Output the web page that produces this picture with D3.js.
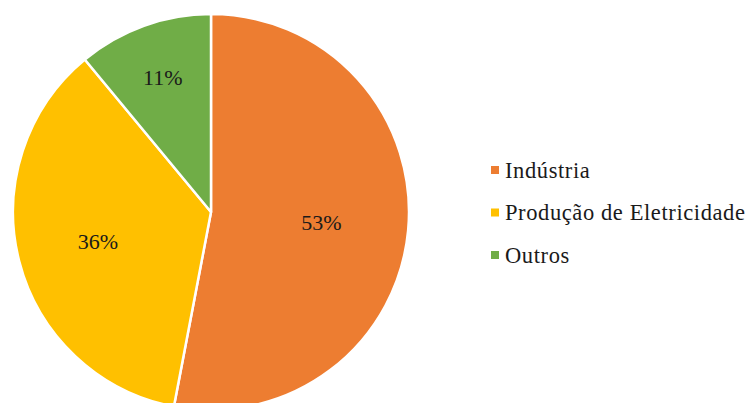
<!DOCTYPE html>
<html>
<head>
<meta charset="utf-8">
<script src="https://cdn.jsdelivr.net/npm/d3@7/dist/d3.min.js"></script>
<style>
  html, body { margin: 0; padding: 0; background: #fff; }
  svg { display: block; }
  .lbl { font-family: "Liberation Serif", "DejaVu Serif", serif; }
</style>
</head>
<body>
<svg id="chart" width="751" height="403"></svg>
<script>
// Share by sector (%)
const categories = ["Indústria", "Produção de Eletricidade", "Outros"];
const values = [53, 36, 11];
const colors = ["#ED7D31", "#FFC000", "#70AD47"];

// Layout
const cx = 211, cy = 212, radius = 198;
const labelRadius = [0.56, 0.59, 0.72]; // fraction of radius for each slice label

const svg = d3.select("#chart");
const color = d3.scaleOrdinal().domain(categories).range(colors);

const pie = d3.pie().sort(null).value(d => d.value);
const data = categories.map((c, i) => ({ name: c, value: values[i] }));
const arcs = pie(data);

const arc = d3.arc().innerRadius(0).outerRadius(radius);

const g = svg.append("g").attr("transform", `translate(${cx},${cy})`);

g.selectAll("path")
  .data(arcs)
  .join("path")
  .attr("d", arc)
  .attr("fill", d => color(d.data.name))
  .attr("stroke", "#fff")
  .attr("stroke-width", 2.5)
  .attr("stroke-linejoin", "round");

const total = d3.sum(values);
g.selectAll("text.pct")
  .data(arcs)
  .join("text")
  .attr("class", "pct lbl")
  .attr("transform", (d, i) => {
    const r = radius * labelRadius[i];
    return `translate(${d3.arc().innerRadius(r).outerRadius(r).centroid(d)})`;
  })
  .attr("text-anchor", "middle")
  .attr("dominant-baseline", "central")
  .attr("font-size", 22)
  .attr("fill", "#1a1a1a")
  .text(d => Math.round(d.data.value / total * 100) + "%");

// Legend
const legend = svg.append("g").attr("transform", "translate(491,170)");
const rowH = 42.5;
const items = legend.selectAll("g")
  .data(categories)
  .join("g")
  .attr("transform", (d, i) => `translate(0,${i * rowH})`);

items.append("rect")
  .attr("x", 0).attr("y", -4)
  .attr("width", 8).attr("height", 8)
  .attr("fill", d => color(d));

items.append("text")
  .attr("class", "lbl")
  .attr("x", 14)
  .attr("y", 0)
  .attr("dominant-baseline", "central")
  .attr("font-size", 22.5)
  .attr("letter-spacing", 0.6)
  .attr("fill", "#1a1a1a")
  .text(d => d);
</script>
</body>
</html>
